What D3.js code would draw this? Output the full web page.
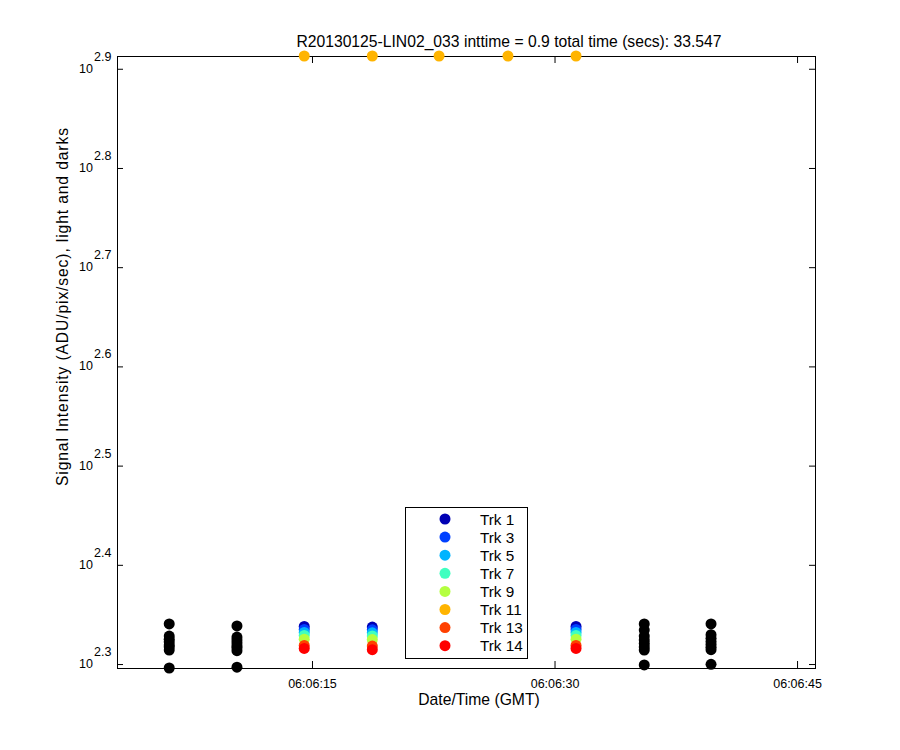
<!DOCTYPE html>
<html lang="en">
<head>
    <meta charset="UTF-8">
    <title>Signal intensity</title>
    <style>
        body { margin: 0; background: #fff; }
        text { font-family: Arial, "Liberation Sans", sans-serif; fill: #000; }
    </style>
</head>
<body>
<svg id="chart"></svg>
<script src="https://cdnjs.cloudflare.com/ajax/libs/d3/7.8.5/d3.min.js"></script>
<script>
    var width = 900;
    var height = 750;

    var title = "R20130125-LIN02_033 inttime = 0.9 total time (secs): 33.547";
    var xLabel = "Date/Time (GMT)";
    var yLabel = "Signal Intensity (ADU/pix/sec), light and darks";

    // seconds after 06:06:00 GMT
    var xDomain = [2.94, 46.11];
    var xTicks = [15, 30, 45];
    var yDomain = [197.7, 818.2];
    var yExponents = [2.3, 2.4, 2.5, 2.6, 2.7, 2.8, 2.9];

    // dark frames (black), one value per track
    var darkTimes = [6.17, 10.36, 35.55, 39.68];
    var darkValues = [
        [219.0, 212.9, 211.4, 210.0, 208.5, 207.6, 206.1, 197.7],
        [218.0, 212.4, 211.0, 209.6, 208.2, 207.2, 205.8, 198.1],
        [219.0, 215.9, 212.9, 211.0, 209.3, 207.6, 206.1, 199.1],
        [219.0, 213.6, 211.8, 210.3, 208.8, 207.4, 206.3, 199.4]
    ];

    // light frames, one series per track
    var lightTimes = [14.52, 18.73, 22.86, 27.12, 31.33];
    var tracks = ["Trk 1", "Trk 3", "Trk 5", "Trk 7", "Trk 9", "Trk 11", "Trk 13", "Trk 14"];
    var trackColors = ["#0000b4", "#0040ff", "#00b4ff", "#40ffc0", "#b4ff40", "#ffb400", "#ff4000", "#ff0000"];
    var trackValues = [
        [217.7, 217.4, null, null, 217.7],
        [216.2, 216.0, null, null, 216.2],
        [214.7, 214.5, null, null, 214.7],
        [213.2, 213.0, null, null, 213.2],
        [211.4, 211.2, null, null, 211.4],
        [818.2, 818.2, 818.2, 818.2, 818.2],
        [208.3, 208.0, null, null, 208.3],
        [206.9, 206.3, null, null, 206.9]
    ];

    var box = {left: 117, right: 815, top: 56, bottom: 668};
    var r = 5.5;

    var svg = d3.select("#chart")
        .attr("width", width)
        .attr("height", height);

    var x = d3.scaleLinear().domain(xDomain).range([box.left, box.right]);
    var y = d3.scaleLog().domain(yDomain).range([box.bottom, box.top]);

    function timeLabel(s) {
        return d3.utcFormat("%H:%M:%S")(new Date(Date.UTC(2013, 0, 25, 6, 6, 0) + s * 1000));
    }

    //axes: bottom/left with labels, top/right mirrored inward ticks
    svg.append("g")
        .attr("transform", "translate(0," + box.bottom + ")")
        .call(d3.axisBottom(x).tickValues(xTicks).tickSizeInner(-7).tickSizeOuter(0).tickPadding(11).tickFormat(timeLabel))
        .call(function(g) {
            g.select(".domain").remove();
            g.selectAll("text").attr("font-size", 12.5).attr("font-family", "Arial, 'Liberation Sans', sans-serif");
        });
    svg.append("g")
        .attr("transform", "translate(0," + box.top + ")")
        .call(d3.axisTop(x).tickValues(xTicks).tickSizeInner(-7).tickSizeOuter(0).tickFormat(""))
        .call(function(g) { g.select(".domain").remove(); });

    var yTickValues = yExponents.map(function(e) { return Math.pow(10, e); });
    svg.append("g")
        .attr("transform", "translate(" + box.left + ",0)")
        .call(d3.axisLeft(y).tickValues(yTickValues).tickSizeInner(-6).tickSizeOuter(0).tickFormat(""))
        .call(function(g) { g.select(".domain").remove(); });
    svg.append("g")
        .attr("transform", "translate(" + box.right + ",0)")
        .call(d3.axisRight(y).tickValues(yTickValues).tickSizeInner(-6).tickSizeOuter(0).tickFormat(""))
        .call(function(g) { g.select(".domain").remove(); });

    //y tick labels as 10 with a raised exponent
    var yLab = svg.append("g");
    yExponents.forEach(function(e) {
        var ty = y(Math.pow(10, e));
        yLab.append("text")
            .attr("x", 93).attr("y", ty + 4)
            .attr("text-anchor", "end").attr("font-size", 12.5)
            .text("10");
        yLab.append("text")
            .attr("x", 94).attr("y", ty - 8)
            .attr("font-size", 12.5)
            .text(e.toFixed(1));
    });

    svg.append("rect")
        .attr("x", box.left).attr("y", box.top)
        .attr("width", box.right - box.left).attr("height", box.bottom - box.top)
        .attr("fill", "none").attr("stroke", "#000").attr("stroke-width", 1)
        .attr("shape-rendering", "crispEdges");

    //dark points
    var darkPts = [];
    darkTimes.forEach(function(t, i) {
        darkValues[i].forEach(function(v) { darkPts.push({t: t, v: v}); });
    });
    svg.append("g").selectAll("circle")
        .data(darkPts)
        .enter()
        .append("circle")
        .attr("cx", function(d) { return x(d.t); })
        .attr("cy", function(d) { return y(d.v); })
        .attr("r", r)
        .attr("fill", "#000");

    //light points, per track
    tracks.forEach(function(name, k) {
        var pts = lightTimes.map(function(t, i) { return {t: t, v: trackValues[k][i]}; })
            .filter(function(d) { return d.v != null; });
        svg.append("g").selectAll("circle")
            .data(pts)
            .enter()
            .append("circle")
            .attr("cx", function(d) { return x(d.t); })
            .attr("cy", function(d) { return y(d.v); })
            .attr("r", r)
            .attr("fill", trackColors[k]);
    });

    //legend
    var legend = svg.append("g");
    legend.append("rect")
        .attr("x", 405.5).attr("y", 507.5)
        .attr("width", 122).attr("height", 151)
        .attr("fill", "#fff").attr("stroke", "#000");
    tracks.forEach(function(name, k) {
        var ly = 519 + k * 18.1;
        legend.append("circle")
            .attr("cx", 445).attr("cy", ly).attr("r", r)
            .attr("fill", trackColors[k]);
        legend.append("text")
            .attr("x", 480).attr("y", ly + 5.5)
            .attr("font-size", 15.3)
            .text(name);
    });

    //titles
    svg.append("text")
        .attr("x", 509).attr("y", 47)
        .attr("text-anchor", "middle").attr("font-size", 15.7)
        .text(title);
    svg.append("text")
        .attr("x", 479).attr("y", 705)
        .attr("text-anchor", "middle").attr("font-size", 15.7)
        .text(xLabel);
    // rotated label is drawn wider in the original
    svg.append("text")
        .attr("transform", "translate(68,307) rotate(-90)")
        .attr("text-anchor", "middle").attr("font-size", 15.7)
        .attr("textLength", 358).attr("lengthAdjust", "spacing")
        .text(yLabel);
</script>
</body>
</html>
